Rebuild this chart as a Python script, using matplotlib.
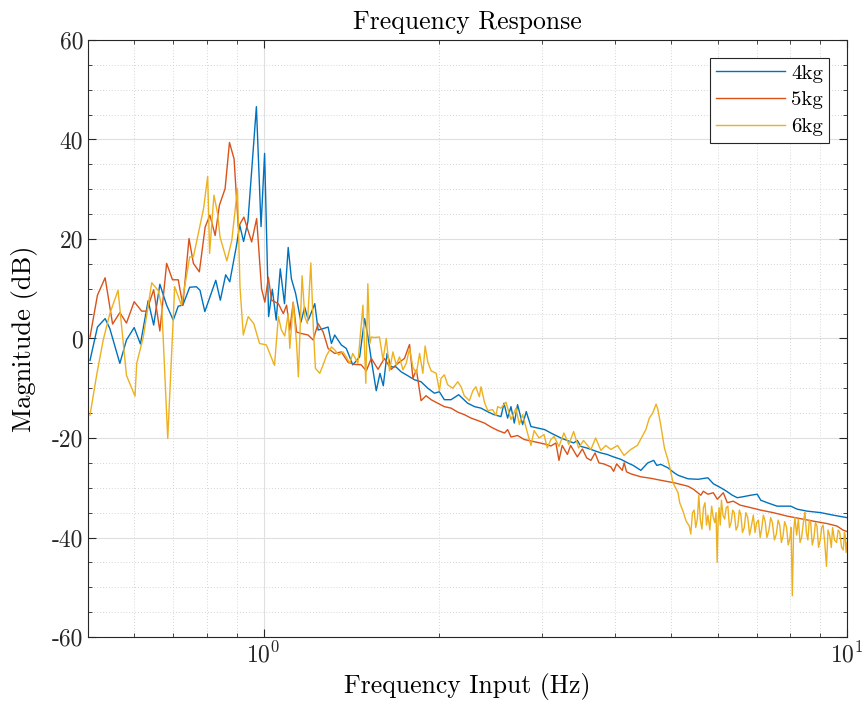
import matplotlib
matplotlib.use("Agg")
import matplotlib.pyplot as plt
from matplotlib.ticker import LogLocator, LogFormatterMathtext, MultipleLocator, NullFormatter

plt.rcParams['font.family'] = 'cmr10'
plt.rcParams['mathtext.fontset'] = 'cm'
plt.rcParams['axes.unicode_minus'] = False
plt.rcParams['axes.formatter.use_mathtext'] = False

# 4kg
f_4kg = [0.504, 0.519, 0.535, 0.545, 0.567, 0.582, 0.600, 0.615, 0.634, 0.648, 0.664, 0.682,
         0.700, 0.714, 0.727, 0.747, 0.767, 0.778, 0.793, 0.828, 0.843, 0.861, 0.875, 0.898,
         0.910, 0.924, 0.940, 0.972, 0.990, 1.004, 1.020, 1.035, 1.051, 1.068, 1.086, 1.102,
         1.116, 1.135, 1.159, 1.176, 1.193, 1.224, 1.240, 1.266, 1.290, 1.307, 1.324, 1.359,
         1.386, 1.422, 1.461, 1.490, 1.510, 1.530, 1.560, 1.583, 1.604, 1.628, 1.653, 1.686,
         1.721, 1.768, 1.814, 1.862, 1.912, 1.963, 2.001, 2.041, 2.096, 2.16, 2.237, 2.30,
         2.359, 2.42, 2.482, 2.552, 2.583, 2.62, 2.655, 2.69, 2.725, 2.780, 2.82, 2.873,
         2.951, 3.031, 3.108, 3.17, 3.233, 3.30, 3.40, 3.45, 3.499, 3.58, 3.68, 3.786,
         3.88, 3.979, 4.10, 4.208, 4.30, 4.433, 4.556, 4.664, 4.72, 4.797, 4.934, 5.057,
         5.137, 5.341, 5.555, 5.776, 5.902, 6.077, 6.218, 6.36, 6.486, 6.641, 6.841, 7.018,
         7.116, 7.298, 7.59, 8.01, 8.214, 8.543, 9.016, 9.464, 10.0]
db_4kg = [-4.4, 2.3, 4.0, 2.0, -5.0, -0.3, 2.2, -1.1, 7.6, 2.7, 10.9, 6.7,
          3.7, 6.5, 6.7, 10.3, 10.4, 9.7, 5.4, 11.7, 7.7, 12.8, 11.4, 18.5,
          22.8, 19.5, 23.5, 46.6, 22.5, 37.2, 4.4, 9.9, 3.7, 14.0, 7.0, 18.3,
          12.0, 9.0, 3.3, 6.3, 3.7, 7.0, 1.7, 2.0, 2.3, -1.0, 0.7, -1.3,
          -2.0, -5.3, -3.7, 4.0, 0.3, -4.3, -10.5, -7.0, -9.5, -3.0, -5.7, -5.7,
          -6.7, -7.5, -8.3, -8.7, -10.0, -11.0, -10.7, -12.3, -12.3, -11.3, -13.0, -13.7,
          -14.0, -14.7, -15.3, -15.7, -13.0, -16.0, -13.7, -17.0, -13.3, -17.3, -14.7, -17.7,
          -18.0, -18.3, -19.0, -19.5, -20.0, -20.4, -21.0, -20.5, -21.7, -22.0, -22.5, -23.0,
          -23.3, -23.8, -24.3, -25.0, -25.5, -26.5, -25.0, -24.5, -25.5, -25.3, -26.0, -27.0,
          -27.5, -28.2, -28.3, -28.0, -29.2, -30.0, -30.7, -31.5, -32.0, -31.8, -31.5, -31.3,
          -32.5, -33.0, -33.7, -33.7, -34.3, -34.7, -35.0, -35.5, -36.0]

# 5kg
f_5kg = [0.504, 0.519, 0.535, 0.551, 0.567, 0.582, 0.600, 0.618, 0.630, 0.648, 0.664, 0.682,
         0.698, 0.714, 0.727, 0.745, 0.758, 0.776, 0.794, 0.809, 0.826, 0.840, 0.859, 0.874,
         0.890, 0.905, 0.925, 0.954, 0.973, 0.992, 1.005, 1.019, 1.032, 1.060, 1.081, 1.095,
         1.109, 1.124, 1.139, 1.161, 1.192, 1.216, 1.240, 1.265, 1.290, 1.324, 1.359, 1.396,
         1.433, 1.470, 1.500, 1.530, 1.571, 1.611, 1.655, 1.699, 1.744, 1.779, 1.803, 1.828,
         1.862, 1.899, 1.937, 1.988, 2.041, 2.096, 2.152, 2.208, 2.268, 2.330, 2.391, 2.454,
         2.522, 2.589, 2.62, 2.655, 2.725, 2.797, 2.873, 2.951, 3.031, 3.108, 3.17, 3.209,
         3.25, 3.317, 3.36, 3.450, 3.52, 3.58, 3.640, 3.70, 3.756, 3.828, 3.938, 3.981,
         4.03, 4.120, 4.15, 4.19, 4.261, 4.433, 4.611, 4.797, 5.057, 5.341, 5.455, 5.617,
         5.673, 5.776, 5.90, 5.995, 6.138, 6.236, 6.385, 6.563, 6.841, 7.116, 7.473, 7.896,
         8.314, 8.747, 9.245, 9.614, 9.844, 10.0]
db_5kg = [0.3, 8.7, 12.2, 2.9, 5.2, 3.1, 7.4, 5.5, 5.5, 9.8, 1.5, 15.1,
          11.8, 11.8, 6.7, 20.1, 15.1, 13.4, 22.4, 24.8, 20.7, 26.8, 30.1, 39.4,
          36.1, 22.4, 24.4, 19.4, 24.1, 10.0, 7.3, 12.3, 7.7, 7.0, 5.0, 6.7,
          1.7, 7.3, 1.3, 1.0, 0.7, -0.3, 3.0, 1.3, -2.0, -3.0, -2.7, -4.8,
          -5.2, -5.3, -6.5, -4.0, -6.2, -4.0, -6.2, -5.0, -4.0, -1.2, -8.0, -6.3,
          -12.5, -11.5, -12.3, -13.0, -13.7, -14.0, -14.8, -15.3, -16.0, -16.5, -17.0, -17.8,
          -18.5, -19.0, -18.3, -19.8, -19.5, -20.3, -20.6, -20.9, -21.2, -21.6, -21.0, -24.5,
          -21.5, -23.3, -21.5, -23.8, -22.2, -24.0, -24.5, -23.0, -25.0, -25.2, -25.8, -26.7,
          -25.2, -26.5, -25.0, -26.8, -27.2, -27.8, -28.1, -28.5, -29.0, -29.7, -30.3, -31.5,
          -30.7, -31.3, -31.0, -32.3, -31.0, -33.0, -32.7, -33.5, -34.0, -34.5, -35.0, -35.7,
          -36.2, -36.7, -37.2, -37.7, -38.5, -38.8]

# 6kg
f_6kg = [0.504, 0.518, 0.531, 0.545, 0.563, 0.582, 0.602, 0.606, 0.622, 0.643, 0.660, 0.669,
         0.685, 0.704, 0.723, 0.738, 0.747, 0.758, 0.773, 0.789, 0.802, 0.808, 0.822, 0.834,
         0.842, 0.865, 0.882, 0.902, 0.911, 0.923, 0.941, 0.962, 0.984, 1.011, 1.044, 1.060,
         1.073, 1.087, 1.102, 1.109, 1.124, 1.139, 1.147, 1.164, 1.177, 1.189, 1.205, 1.217,
         1.227, 1.248, 1.265, 1.281, 1.307, 1.324, 1.345, 1.368, 1.386, 1.405, 1.422, 1.451,
         1.480, 1.497, 1.509, 1.521, 1.530, 1.549, 1.580, 1.602, 1.623, 1.644, 1.666, 1.688,
         1.710, 1.733, 1.756, 1.779, 1.803, 1.828, 1.851, 1.875, 1.892, 1.912, 1.937, 1.976,
         2.002, 2.015, 2.041, 2.068, 2.110, 2.152, 2.180, 2.208, 2.253, 2.284, 2.311, 2.343,
         2.359, 2.391, 2.422, 2.470, 2.502, 2.519, 2.552, 2.603, 2.655, 2.708, 2.744, 2.780,
         2.834, 2.873, 2.909, 2.966, 3.025, 3.064, 3.108, 3.148, 3.209, 3.272, 3.336, 3.400,
         3.467, 3.535, 3.640, 3.709, 3.786, 3.860, 3.938, 4.043, 4.148, 4.261, 4.372, 4.433,
         4.522, 4.583, 4.645, 4.708, 4.740, 4.797, 4.865, 4.931, 4.983, 5.033, 5.134, 5.168,
         5.235, 5.301, 5.367, 5.399, 5.435, 5.471, 5.505, 5.540, 5.573, 5.607, 5.641, 5.675,
         5.710, 5.745, 5.777, 5.82, 5.862, 5.90, 5.936, 5.965, 5.991, 6.015, 6.036, 6.065,
         6.093, 6.13, 6.170, 6.21, 6.250, 6.29, 6.330, 6.37, 6.411, 6.455, 6.500, 6.54,
         6.58, 6.62, 6.668, 6.71, 6.76, 6.81, 6.858, 6.91, 6.958, 7.0, 7.05, 7.10,
         7.141, 7.19, 7.242, 7.29, 7.345, 7.40, 7.45, 7.51, 7.568, 7.62, 7.67, 7.72,
         7.769, 7.82, 7.88, 7.93, 7.983, 8.02, 8.060, 8.10, 8.143, 8.20, 8.254, 8.31,
         8.36, 8.42, 8.472, 8.52, 8.57, 8.62, 8.667, 8.72, 8.78, 8.83, 8.885, 8.94,
         9.0, 9.05, 9.102, 9.16, 9.223, 9.28, 9.345, 9.40, 9.45, 9.52, 9.598, 9.66,
         9.72, 9.79, 9.857, 9.90, 9.93, 9.965, 10.0]
db_6kg = [-15.4, -7.0, -0.3, 5.0, 9.7, -7.4, -11.6, -5.0, 0.3, 11.2, 9.6, 6.4,
          -20.1, 10.4, 6.7, 12.7, 16.4, 16.4, 21.1, 26.1, 32.6, 17.1, 28.8, 25.1,
          20.4, 15.6, 19.7, 30.1, 10.4, 0.7, 4.4, 3.0, -1.0, -1.3, -5.4, 4.4,
          1.7, 0.5, 5.0, -2.0, 7.2, -1.0, -7.7, 12.6, 4.3, 3.0, 15.2, 2.0,
          -6.0, -7.0, -5.3, -3.5, -1.7, -2.3, -3.3, -2.7, -3.7, -5.0, -3.0, -5.0,
          6.7, -9.0, 11.0, -1.0, 0.3, 0.2, 0.3, -4.3, 0.0, -6.5, -2.7, -5.3,
          -3.7, -6.3, -5.0, -2.0, -5.8, -7.0, -3.0, -7.0, -1.5, -4.7, -6.5, -7.0,
          -10.5, -8.0, -7.3, -9.3, -10.0, -8.7, -9.7, -11.5, -12.5, -10.5, -9.7, -11.7,
          -9.7, -12.8, -14.5, -14.3, -15.5, -13.7, -14.0, -12.8, -16.3, -14.0, -17.3, -15.3,
          -19.0, -21.5, -18.5, -20.0, -19.3, -22.0, -20.3, -19.7, -21.7, -19.0, -21.3, -18.7,
          -22.0, -20.5, -22.3, -20.0, -22.5, -21.5, -22.3, -21.5, -23.5, -22.3, -21.5, -20.2,
          -18.3, -16.0, -15.0, -13.2, -14.2, -17.5, -22.0, -24.3, -26.5, -29.0, -31.0, -33.0,
          -34.7, -36.7, -37.7, -39.3, -35.0, -34.5, -38.0, -36.3, -31.5, -36.5, -38.3, -34.0,
          -33.0, -37.5, -35.5, -38.5, -33.7, -36.0, -37.0, -35.0, -45.0, -36.5, -34.0, -37.5,
          -32.5, -35.5, -36.3, -34.0, -33.7, -38.0, -37.0, -34.5, -35.0, -38.5, -37.7, -34.5,
          -35.5, -39.0, -38.0, -35.0, -36.0, -39.5, -37.7, -35.5, -39.0, -37.0, -36.5, -40.0,
          -38.3, -35.5, -36.8, -40.0, -38.7, -36.0, -37.0, -40.5, -39.3, -36.5, -37.5, -41.0,
          -39.7, -36.8, -38.0, -41.5, -40.2, -38.0, -51.7, -39.0, -36.0, -39.5, -36.3, -41.0,
          -40.0, -37.0, -34.8, -39.0, -40.5, -36.5, -37.0, -41.5, -40.0, -37.0, -37.8, -42.0,
          -40.5, -38.0, -37.5, -41.0, -45.8, -38.5, -39.7, -42.0, -38.0, -40.5, -41.0, -38.5,
          -39.0, -42.0, -42.5, -39.0, -39.5, -43.0, -41.0]

fig = plt.figure(figsize=(8.66, 7.10), dpi=100)
ax = fig.add_axes([0.1016, 0.1028, 0.8764, 0.8409])

ax.plot(f_4kg, db_4kg, color='#0072BD', lw=1.0, label='4kg')
ax.plot(f_5kg, db_5kg, color='#D95319', lw=1.0, label='5kg')
ax.plot(f_6kg, db_6kg, color='#EDB120', lw=1.0, label='6kg')

ax.set_xscale('log')
ax.set_xlim(0.5, 10)
ax.set_ylim(-60, 60)
ax.set_yticks([-60, -40, -20, 0, 20, 40, 60])
ax.yaxis.set_minor_locator(MultipleLocator(5))
ax.xaxis.set_major_locator(LogLocator(base=10))
ax.xaxis.set_major_formatter(LogFormatterMathtext())
ax.xaxis.set_minor_locator(LogLocator(base=10, subs=range(2, 10)))
ax.xaxis.set_minor_formatter(NullFormatter())

ax.grid(True, which='major', color='#dfdfdf', lw=0.8, ls='-')
ax.grid(True, which='minor', color='#c8c8c8', lw=0.6, ls=(0, (1, 2.5)))
ax.set_axisbelow(True)

ax.tick_params(which='both', direction='in', top=True, right=True, colors='#262626', labelsize=17)
ax.tick_params(which='major', length=6)
ax.tick_params(which='minor', length=3)
for s in ax.spines.values():
    s.set_color('#262626')
    s.set_linewidth(0.8)

ax.set_title('Frequency Response', fontsize=18.5, color='black', pad=8)
ax.set_xlabel('Frequency Input (Hz)', fontsize=18.5)
ax.set_ylabel('Magnitude (dB)', fontsize=19, labelpad=10)

leg = ax.legend(loc='upper right', fontsize=15, fancybox=False, framealpha=1,
                edgecolor='#262626', borderaxespad=0.85, handlelength=3.3,
                handletextpad=0.3, labelspacing=0.4, borderpad=0.3)
leg.get_frame().set_linewidth(0.8)

fig.savefig('out.png', dpi=100)
